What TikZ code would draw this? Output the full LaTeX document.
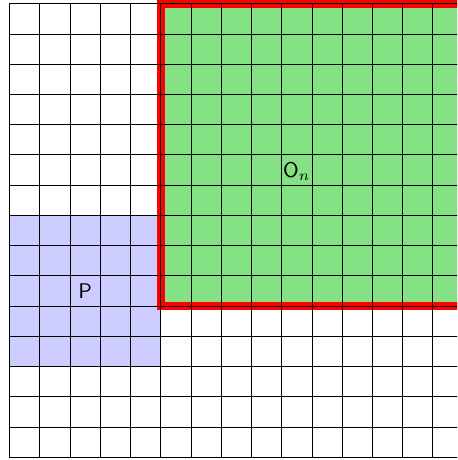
\documentclass[tikz,border=0pt]{standalone}
\begin{document}
\begin{tikzpicture}[x=1cm,y=1cm,
  gridline/.style={black,line width=0.75pt},
  lbl/.style={font=\sffamily,scale=2.0,inner sep=0pt}]
\definecolor{pblue}{RGB}{204,204,255}
\definecolor{ogreen}{RGB}{132,225,132}
\useasboundingbox (-0.314,-0.089) rectangle (14.80,15.122);
\clip (-0.314,-0.089) rectangle (14.80,15.122);
\fill[pblue] (0,3) rectangle (5,8);
\fill[ogreen] (5,5) rectangle (16,16);
\draw[red,line width=7.5pt] (5,5) rectangle (16,15);
\draw[gridline] (0,0) grid (16,15);
\node[lbl] (P) at (2.5,5.5) {P};
\node[lbl] (On) at (9.5,9.45) {O$_n$};
\end{tikzpicture}
\end{document}
